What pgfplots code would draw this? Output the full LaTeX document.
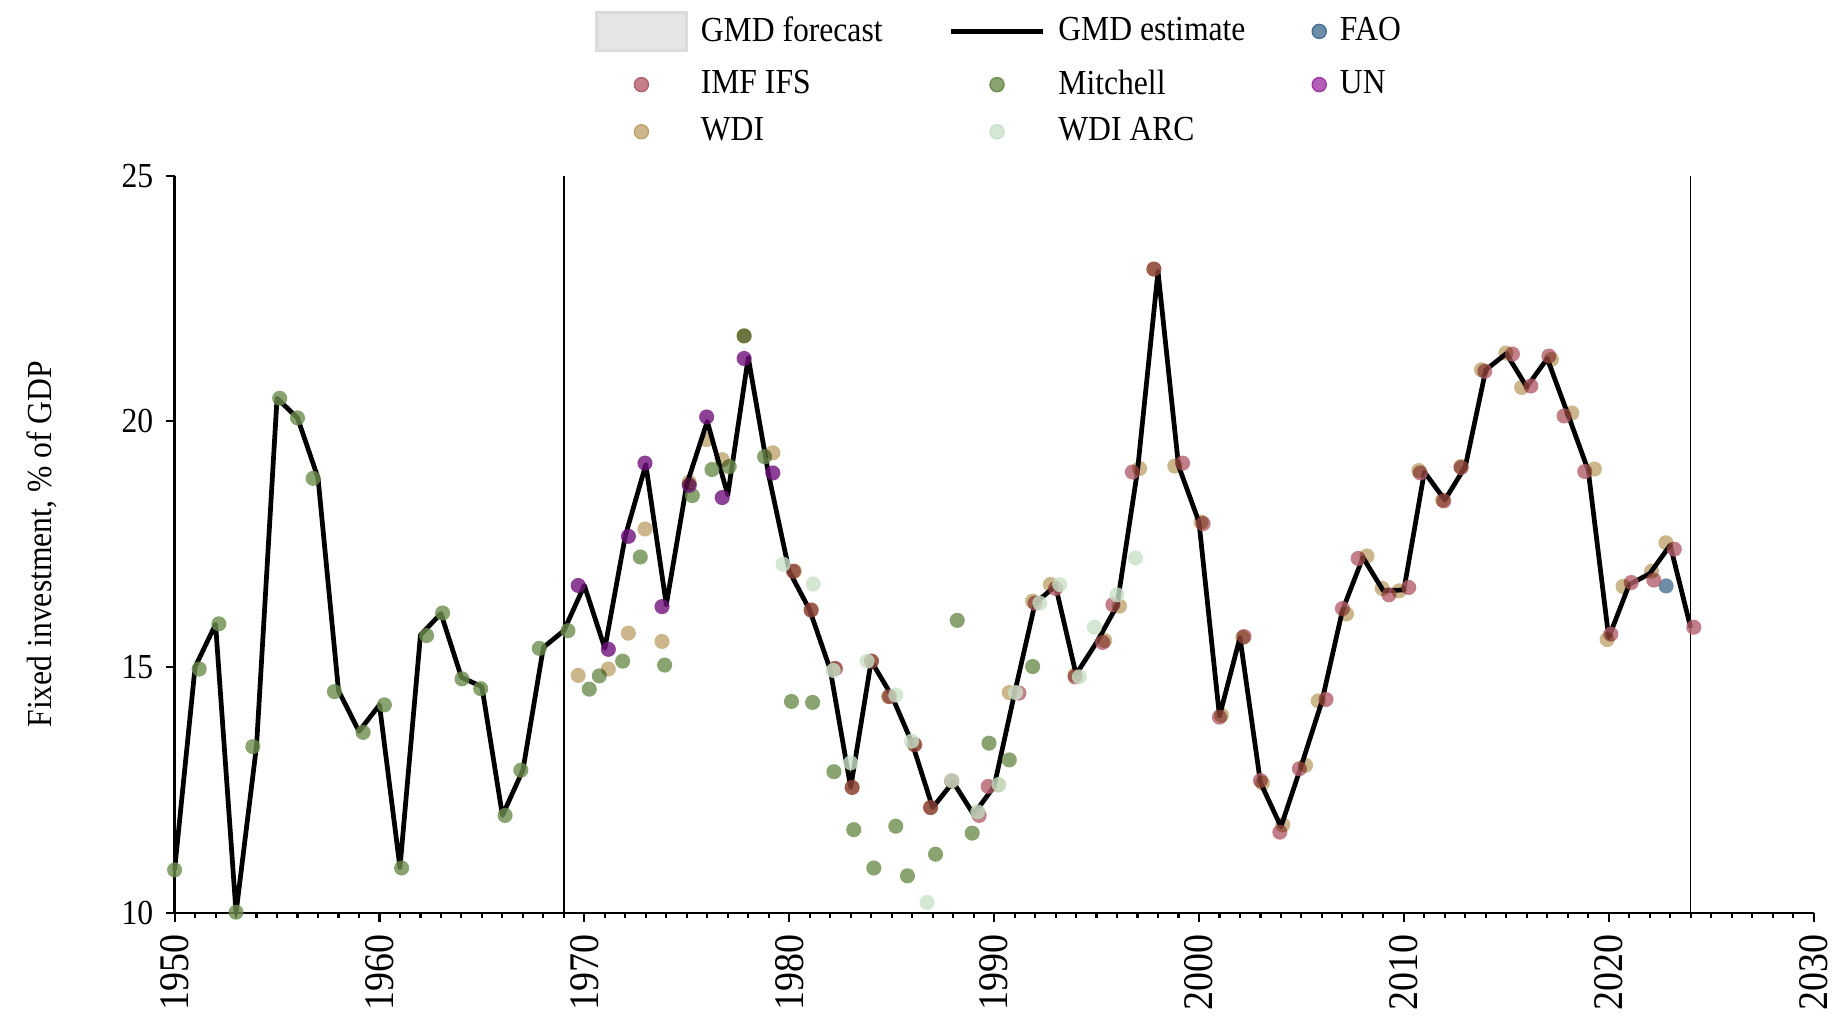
\documentclass[border=0pt]{standalone}
\usepackage{fontspec}
\setmainfont{Liberation Serif}[FakeStretch=0.9]
\usepackage{pgfplots}
\pgfplotsset{compat=1.18}

\definecolor{imf}{RGB}{180,95,108}
\definecolor{mitch}{RGB}{108,140,78}
\definecolor{wdi}{RGB}{190,165,110}
\definecolor{wdiarc}{RGB}{200,225,200}
\definecolor{fao}{RGB}{72,112,148}
\definecolor{un}{RGB}{112,18,124}
\definecolor{unkey}{RGB}{160,55,165}

% legend key: a dot of colour #1 at x = #2
\newcommand\keydot[2]{\fill[#1, fill opacity=0.8] (#2,0mm) circle (2pt);}

\pgfplotsset{
  src/.style={color=#1, only marks, mark=*, mark size=2.15pt,
    mark options={solid, draw=none, draw opacity=0, fill=#1, fill opacity=0.8}},
  srcm/.style={color=#1, only marks, mark=*, mark size=2.15pt,
    mark options={solid, draw=none, draw opacity=0, fill=#1, fill opacity=0.8, blend mode=multiply}},
}

\begin{document}
\begin{tikzpicture}
\useasboundingbox (-17.46mm,-10.63mm) rectangle (166.24mm,91.27mm);
\begin{axis}[
  scale only axis, width=163.9mm, height=73.7mm,
  xmin=1950, xmax=2030, ymin=10, ymax=25,
  axis lines=left, axis line style={-, line width=0.65pt},
  clip=false,
  tick align=outside,
  major tick length=0.9mm, minor tick length=0.5mm,
  tick style={black, line width=0.6pt},
  xtick={1950,1960,...,2030}, minor x tick num=9,
  ytick={10,15,20,25},
  /pgf/number format/assume math mode=true,
  /pgf/number format/1000 sep={},
  x tick label style={rotate=90, anchor=east, font=\fontsize{12}{12}\selectfont},
  y tick label style={font=\fontsize{10}{12}\selectfont},
  ylabel={Fixed investment, \% of GDP},
  ylabel style={at={(axis description cs:-0.0809,0.5)}, anchor=center, font=\fontsize{10}{12}\selectfont},
  legend columns=3,
  legend cell align=left,
  legend style={at={(axis description cs:0.2565,1.2235)}, anchor=north west,
    draw=none, fill=none, inner sep=0pt, outer sep=0pt,
    font=\fontsize{10}{12}\selectfont,
    nodes={inner sep=0pt},
    column sep=1.3mm, row sep=1.8mm,
    /tikz/every even column/.append style={column sep=6.6mm}},
]

\addlegendimage{legend image code/.code={\filldraw[fill=black!10, draw=black!14, line width=0.8pt] (0mm,-1.9mm) rectangle (9mm,1.9mm);}}
\addlegendentry{GMD forecast}

\addplot[black, line width=1.35pt, line join=round, legend image code/.code={\draw[black, line width=1.35pt] (0mm,0mm) -- (9.2mm,0mm);}] coordinates {
(1950,10.87) (1951,15.0) (1952,15.87) (1953,10.0) (1954,13.4) (1955,20.47) (1956,20.07) (1957,18.85) (1958,14.52) (1959,13.69)
(1960,14.23) (1961,10.92) (1962,15.65) (1963,16.09) (1964,14.79) (1965,14.6) (1966,11.98) (1967,12.9) (1968,15.4) (1969,15.74)
(1970,16.66) (1971,15.38) (1972,17.67) (1973,19.12) (1974,16.27) (1975,18.72) (1976,20.0) (1977,18.5) (1978,21.3) (1979,18.9)
(1980,16.95) (1981,16.16) (1982,14.95) (1983,12.55) (1984,15.12) (1985,14.42) (1986,13.45) (1987,12.14) (1988,12.66) (1989,12.0)
(1990,12.57) (1991,14.47) (1992,16.3) (1993,16.65) (1994,14.85) (1995,15.5) (1996,16.25) (1997,19.0) (1998,23.05) (1999,19.1)
(2000,17.95) (2001,14.0) (2002,15.6) (2003,12.65) (2004,11.75) (2005,13.0) (2006,14.3) (2007,16.15) (2008,17.23) (2009,16.55)
(2010,16.57) (2011,18.97) (2012,18.4) (2013,19.08) (2014,21.05) (2015,21.38) (2016,20.7) (2017,21.28) (2018,20.15) (2019,19.0)
(2020,15.6) (2021,16.68) (2022,16.9) (2023,17.48) (2024,15.8)
};
\addlegendentry{GMD estimate}

\addplot[black, line width=0.45pt, forget plot] coordinates {(1969,10) (1969,25)};
\addplot[black, line width=0.45pt, forget plot] coordinates {(2024,10) (2024,25)};

% FAO
\addplot[src=fao, legend image code/.code={\keydot{fao}{0mm}}] coordinates {(2022.8,16.65)};
\addlegendentry{FAO}

% IMF IFS
\addplot[src=imf, legend image code/.code={\keydot{imf}{4.5mm}}] coordinates {
(1980.2,16.95) (1981.07,16.16) (1982.26,14.97) (1983.07,12.55) (1984.02,15.12) (1984.9,14.40) (1986.13,13.42) (1986.9,12.14)
(1987.93,12.68) (1989.27,11.98) (1989.71,12.57) (1991.21,14.47) (1992.0,16.30) (1993.0,16.60) (1993.95,14.80) (1995.3,15.50)
(1995.8,16.27) (1996.75,18.97) (1997.8,23.10) (1999.2,19.15) (2000.2,17.92) (2001.0,13.98) (2002.2,15.62) (2003.0,12.69)
(2003.95,11.64) (2004.9,12.93) (2006.2,14.34) (2007.0,16.19) (2007.77,17.21) (2009.27,16.47) (2010.24,16.62) (2010.8,18.95)
(2011.95,18.38) (2012.8,19.06) (2013.95,21.02) (2015.3,21.37) (2016.2,20.72) (2017.08,21.33) (2017.82,20.11) (2018.83,18.98)
(2020.1,15.67) (2021.1,16.72) (2022.2,16.77) (2023.2,17.40) (2024.15,15.81)
};
\addlegendentry{IMF IFS}

% Mitchell
\addplot[src=mitch, legend image code/.code={\keydot{mitch}{4.6mm}}] coordinates {
(1950.0,10.87) (1951.2,14.96) (1952.16,15.88) (1953.0,10.01) (1953.82,13.38) (1955.13,20.47) (1956.0,20.07) (1956.76,18.84)
(1957.8,14.50) (1959.2,13.67) (1960.24,14.23) (1961.08,10.91) (1962.3,15.64) (1963.08,16.10) (1964.03,14.76) (1964.94,14.56)
(1966.13,11.98) (1966.9,12.90) (1967.8,15.38) (1969.2,15.74) (1970.24,14.55) (1970.73,14.82) (1971.87,15.12) (1972.73,17.24)
(1973.92,15.04) (1975.27,18.49) (1976.23,19.02) (1977.07,19.08) (1977.8,21.74) (1978.8,19.28) (1980.11,14.30) (1981.14,14.28)
(1982.18,12.87) (1983.15,11.69) (1984.13,10.91) (1985.2,11.76) (1985.77,10.75) (1987.14,11.19) (1988.2,15.95) (1988.93,11.62)
(1989.75,13.45) (1990.74,13.11) (1991.88,15.01)
};
\addlegendentry{Mitchell}

% UN
\addplot[src=un, legend image code/.code={\keydot{unkey}{0mm}}] coordinates {
(1969.7,16.66) (1971.17,15.36) (1972.15,17.66) (1972.96,19.15) (1973.79,16.23) (1975.12,18.70) (1975.97,20.09) (1976.73,18.45)
(1977.8,21.28) (1979.2,18.95)
};
\addlegendentry{UN}

% WDI
\addplot[srcm=wdi, legend image code/.code={\keydot{wdi}{4.5mm}}] coordinates {
(1969.7,14.83) (1971.17,14.96) (1972.15,15.69) (1972.96,17.81) (1973.79,15.52) (1975.12,18.76) (1975.97,19.63) (1976.73,19.22)
(1977.8,21.74) (1979.2,19.36)
(1980.25,16.95) (1981.07,16.16) (1982.2,14.97) (1983.07,12.55) (1984.0,15.12) (1984.85,14.40) (1986.1,13.42) (1986.9,12.14)
(1987.93,12.68) (1989.2,12.05) (1990.2,12.6) (1990.74,14.48) (1991.88,16.34) (1992.75,16.68) (1993.95,14.84) (1995.4,15.54)
(1996.12,16.24) (1997.1,19.04) (1997.8,23.1) (1998.82,19.09) (2000.1,17.95) (2001.1,14.02) (2002.14,15.60) (2003.1,12.64)
(2004.09,11.79) (2005.2,13.0) (2005.82,14.31) (2007.2,16.08) (2008.2,17.26) (2008.94,16.60) (2009.76,16.55) (2010.73,19.0)
(2011.89,18.40) (2012.78,19.08) (2013.79,21.05) (2014.98,21.39) (2015.75,20.69) (2017.2,21.26) (2018.2,20.17) (2019.3,19.03)
(2019.92,15.56) (2020.7,16.64) (2022.09,16.95) (2022.79,17.53)
};
\addlegendentry{WDI}

% WDI ARC
\addplot[src=wdiarc, legend image code/.code={\keydot{wdiarc}{4.6mm}}] coordinates {
(1979.7,17.09) (1981.17,16.69) (1982.15,14.93) (1983.0,13.05) (1983.8,15.12) (1985.2,14.43) (1985.97,13.49) (1986.73,10.21)
(1987.93,12.69) (1989.2,12.05) (1990.23,12.61) (1991.05,14.48) (1992.23,16.30) (1993.2,16.68) (1994.16,14.80) (1994.9,15.81)
(1996.0,16.47) (1996.9,17.22)
};
\addlegendentry{WDI ARC}

\end{axis}
\end{tikzpicture}
\end{document}
